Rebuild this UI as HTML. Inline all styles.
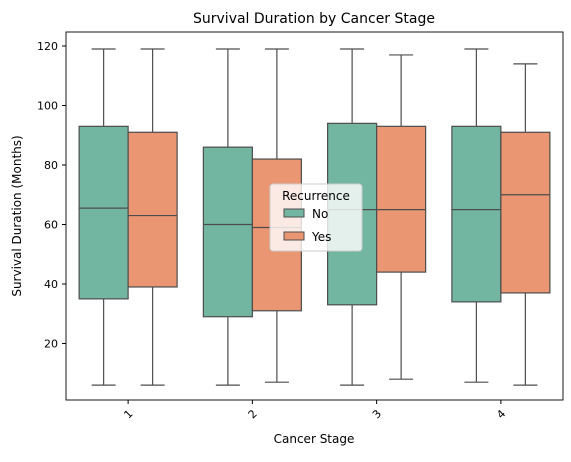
<!DOCTYPE html>
<html><head><meta charset="utf-8"><style>
body{margin:0;background:#fff;font-family:"Liberation Sans","DejaVu Sans",sans-serif}
</style></head><body>
<svg id="chart" width="571" height="457" xmlns="http://www.w3.org/2000/svg" font-family="DejaVu Sans, Liberation Sans, sans-serif">
<rect width="571" height="457" fill="#fff"/>
<text x="314" y="23" text-anchor="middle" font-size="14" fill="#000">Survival Duration by Cancer Stage</text>
<g id="plot"></g>
<rect x="66" y="32" width="497" height="368" fill="none" stroke="#000" stroke-width="0.9"/>
<text x="314" y="443" text-anchor="middle" font-size="12">Cancer Stage</text>
<text transform="translate(21,216) rotate(-90)" text-anchor="middle" font-size="12">Survival Duration (Months)</text>
<g>
<rect x="270" y="184" width="92" height="67" rx="3" fill="#fff" fill-opacity="0.8" stroke="#ccc"/>
<text x="316" y="200" text-anchor="middle" font-size="12">Recurrence</text>
<rect x="284" y="209" width="20" height="8" fill="#72b6a1" stroke="#4d4d4d"/>
<text x="312" y="218" font-size="12">No</text>
<rect x="284" y="232" width="20" height="8" fill="#ea9672" stroke="#4d4d4d"/>
<text x="312" y="241" font-size="12">Yes</text>
</g>
</svg>
<script>
const categories=["1","2","3","4"];
const noMin=[6,6,6,7], noQ1=[35,29,33,34], noMed=[65.5,60,65,65], noQ3=[93,86,94,93], noMax=[119,119,119,119];
const yesMin=[6,7,8,6], yesQ1=[39,31,44,37], yesMed=[63,59,65,70], yesQ3=[91,82,93,91], yesMax=[119,119,117,114];
const yTicks=[20,40,60,80,100,120];
const NS="http://www.w3.org/2000/svg";
const g=document.getElementById('plot');
const X0=66,W=497,bw=W/categories.length;
function y(v){return 46+(120-v)*2.975;}
function xc(i){return X0+bw*(i+0.5);}
function mk(t,a){const e=document.createElementNS(NS,t);for(const k in a)e.setAttribute(k,a[k]);g.appendChild(e);return e;}
yTicks.forEach(t=>{
 const l=mk('line',{x1:62,x2:66,y1:y(t),y2:y(t),stroke:'#000'});
 
 
 const s=mk('text',{x:58,y:y(t)+4,'text-anchor':'end','font-size':11});s.textContent=t;
 
 
});
function box(cx,mn,q1,md,q3,mx,fill,name){
 const w=49,c=cx;
 const a=mk('line',{x1:c,x2:c,y1:y(mx),y2:y(q3),stroke:'#4d4d4d','stroke-width':1.2});
 
 const b=mk('line',{x1:c,x2:c,y1:y(q1),y2:y(mn),stroke:'#4d4d4d','stroke-width':1.2});
 
 [mx,mn].forEach(v=>{const cap=mk('line',{x1:c-12,x2:c+12,y1:y(v),y2:y(v),stroke:'#4d4d4d','stroke-width':1.2});
  });
 const r=mk('rect',{x:c-w/2,y:y(q3),width:w,height:y(q1)-y(q3),fill:fill,stroke:'#4d4d4d','stroke-width':1.2});
 
 const m=mk('line',{x1:c-w/2,x2:c+w/2,y1:y(md),y2:y(md),stroke:'#4d4d4d','stroke-width':1.2});
 
}
categories.forEach((c,i)=>{
 const cx=xc(i);
 box(cx-24.5,noMin[i],noQ1[i],noMed[i],noQ3[i],noMax[i],'#72b6a1','stage'+c+'-no');
 box(cx+24.5,yesMin[i],yesQ1[i],yesMed[i],yesQ3[i],yesMax[i],'#ea9672','stage'+c+'-yes');
 const t=mk('line',{x1:cx,x2:cx,y1:400,y2:404,stroke:'#000'});
 
 const s=mk('text',{x:cx,y:418,'text-anchor':'middle','font-size':11,transform:`rotate(-45 ${cx} 414)`});s.textContent=c;
 
});
</script>
</body></html>
